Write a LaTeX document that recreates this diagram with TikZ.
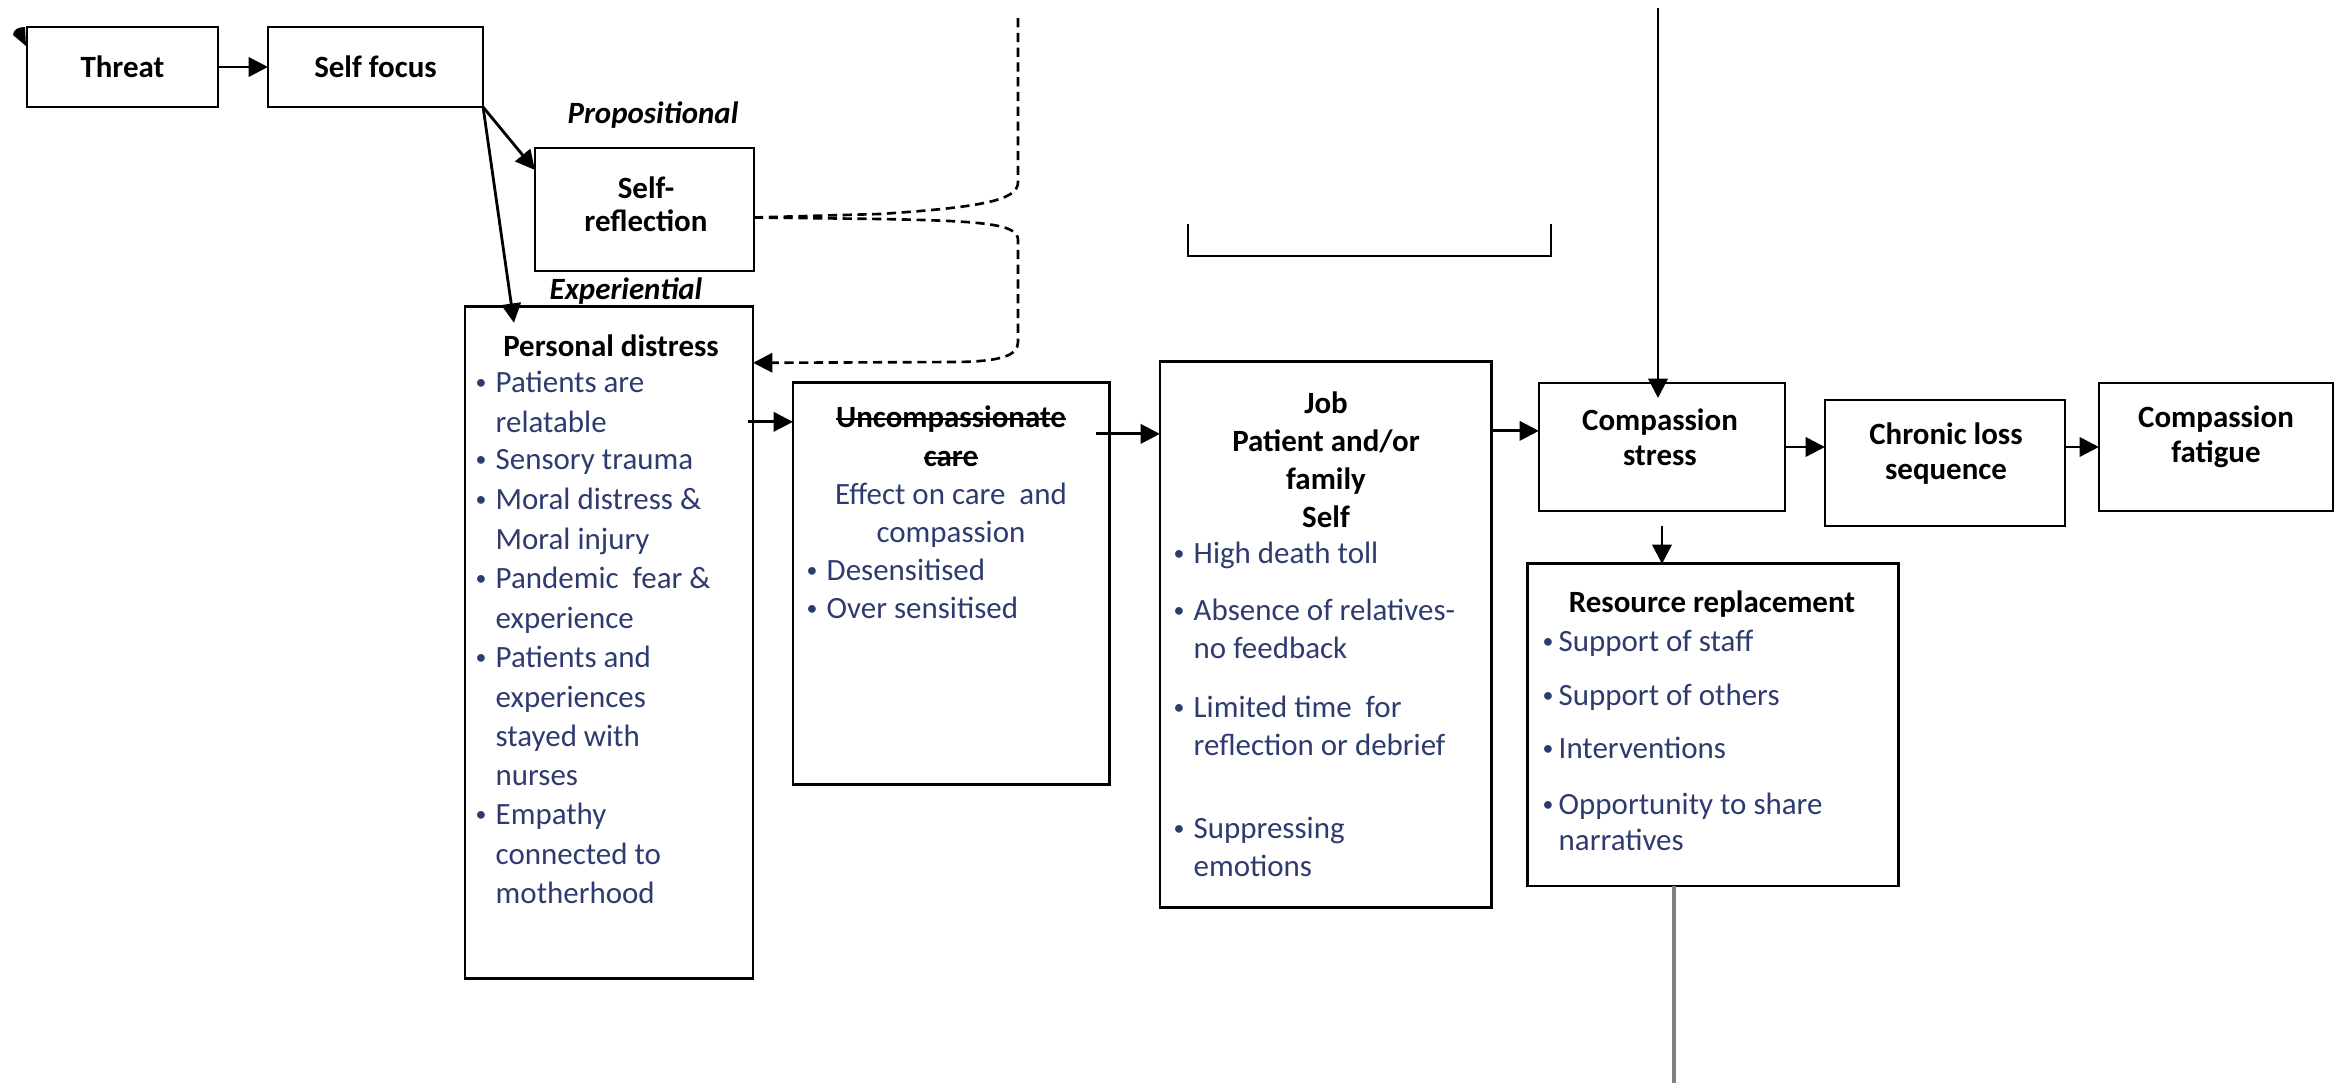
\documentclass[tikz,border=0pt]{standalone}
\usepackage{fontspec}
\setmainfont{Carlito}
\usetikzlibrary{arrows.meta}
\definecolor{navy}{HTML}{2E3B6E}
\definecolor{lgray}{RGB}{128,128,128}
\newcommand\strk[1]{\setbox0\hbox{#1}\rlap{\rule[0.24em]{\wd0}{0.55pt}}\box0}
\newcommand\smallbul{\raisebox{0.12em}{\fontsize{6.2}{6.2}\selectfont\textbullet}}
\newcommand\bitem[2][0.20cm]{\makebox[#1][l]{\smallbul}\begin{tabular}[t]{@{}l@{}}#2\end{tabular}}
\begin{document}
\begin{tikzpicture}[x=0.01cm,y=-0.01cm,
  box/.style={draw, line width=0.8pt, inner sep=0pt, outer sep=0pt},
  ttl/.style={font=\bfseries\fontsize{8.8}{10}\selectfont, align=center, inner sep=0pt},
  lbl/.style={font=\bfseries\itshape\fontsize{8.8}{10}\selectfont, inner sep=0pt},
  itm/.style={font=\fontsize{8.8}{11.15}\selectfont, text=navy, anchor=base west, inner sep=0pt},
  arr/.style={line width=0.8pt, -{Triangle[length=5.5pt,width=5.5pt]}},
  dsh/.style={line width=0.75pt, dash pattern=on 2.6pt off 1.6pt}]
\useasboundingbox (0,0) rectangle (2338,1083);

% boxes
\node[box, ttl, minimum width=1.91cm, minimum height=0.80cm] (threat) at (122.5,67) {Threat};
\node[box, ttl, minimum width=2.15cm, minimum height=0.80cm] (selffocus) at (375.5,67) {Self focus};
\node[box, minimum width=2.19cm, minimum height=1.23cm] (selfrefl) at (644.5,209.5) {};
\node[box, minimum width=2.88cm, minimum height=6.71cm] (pd) at (609,642.5) {};
\node[box, minimum width=3.16cm, minimum height=4.01cm] (unc) at (951,583.5) {};
\node[box, minimum width=3.31cm, minimum height=5.45cm] (job) at (1325.5,634.5) {};
\node[box, minimum width=2.46cm, minimum height=1.28cm] (cs) at (1662,447) {};
\node[box, minimum width=2.40cm, minimum height=1.26cm] (chronic) at (1945,463) {};
\node[box, minimum width=2.34cm, minimum height=1.28cm] (cf) at (2216,447) {};
\node[box, minimum width=3.70cm, minimum height=3.22cm] (res) at (1713,725) {};

% labels
\node[lbl] (prop) at (653,115) {Propositional};
\node[lbl] (exper) at (626,291) {Experiential};

% titles
\node[ttl, font=\bfseries\fontsize{8.8}{9.4}\selectfont] (srtext) at (646,204) {Self-\\reflection};
\node[ttl] (pdtitle) at (611,346) {Personal distress};
\node[ttl, font=\bfseries\fontsize{8.8}{10.9}\selectfont] (unctitle) at (951,477)
  {\strk{Uncompassionate}\\\strk{care}\\\textcolor{navy}{\mdseries Effect on care\ \ and}\\\textcolor{navy}{\mdseries compassion}};
\node[ttl, font=\bfseries\fontsize{8.8}{10.8}\selectfont] (jobtitle) at (1326,460) {Job\\Patient and/or\\family\\Self};
\node[ttl] (cstext) at (1660,437) {Compassion\\stress};
\node[ttl] (chrtext) at (1946,454) {Chronic loss\\sequence};
\node[ttl] (cftext) at (2216,437) {Compassion\\fatigue};
\node[ttl] (restitle) at (1712,604) {Resource replacement};

% personal distress items
\node[itm] (pd1) at (475,393) {\bitem{Patients are\\relatable}};
\node[itm] (pd2) at (475,470) {\bitem{Sensory trauma}};
\node[itm] (pd3) at (475,510) {\bitem{Moral distress \&\\Moral injury}};
\node[itm] (pd4) at (475,589) {\bitem{Pandemic\ \ fear \&\\experience}};
\node[itm] (pd5) at (475,668) {\bitem{Patients and\\experiences\\stayed with\\nurses}};
\node[itm] (pd6) at (475,825) {\bitem{Empathy\\connected to\\motherhood}};

% uncompassionate items
\node[itm] (unc1) at (806,581) {\bitem{Desensitised}};
\node[itm] (unc2) at (806,619) {\bitem{Over sensitised}};

% job items
\node[itm, font=\fontsize{8.8}{10.6}\selectfont] (job1) at (1173,564) {\bitem{High death toll}};
\node[itm, font=\fontsize{8.8}{10.6}\selectfont] (job2) at (1173,621) {\bitem{Absence of relatives-\\no feedback}};
\node[itm, font=\fontsize{8.8}{10.6}\selectfont] (job3) at (1173,718) {\bitem{Limited time\ \ for\\reflection or debrief}};
\node[itm, font=\fontsize{8.8}{10.6}\selectfont] (job4) at (1173,839) {\bitem{Suppressing\\emotions}};

% resource items
\node[itm, font=\fontsize{8.8}{10}\selectfont] (res1) at (1542,652) {\bitem[0.16cm]{Support of staff}};
\node[itm, font=\fontsize{8.8}{10}\selectfont] (res2) at (1542,706) {\bitem[0.16cm]{Support of others}};
\node[itm, font=\fontsize{8.8}{10}\selectfont] (res3) at (1542,759) {\bitem[0.16cm]{Interventions}};
\node[itm, font=\fontsize{8.8}{10}\selectfont] (res4) at (1542,815) {\bitem[0.16cm]{Opportunity to share\\narratives}};

% connectors
\draw[arr] (threat) -- (selffocus);
\draw[arr] (selffocus.south east) -- ([yshift=-0.22cm]selfrefl.north west);
\draw[arr] (selffocus.south east) -- ([xshift=0.49cm,yshift=-0.16cm]pd.north west);

\coordinate (pdout) at ([xshift=-0.05cm,yshift=-1.15cm]pd.north east);
\draw[arr] (pdout) -- (pdout -| unc.west);
\coordinate (uncout) at ([xshift=-0.13cm,yshift=-0.51cm]unc.north east);
\draw[arr] (uncout) -- (uncout -| job.west);
\coordinate (jobout) at ([yshift=-0.69cm]job.north east);
\draw[arr] (jobout) -- (jobout -| cs.west);
\draw[arr] (cs.east) -- (cs.east -| chronic.west);
\coordinate (chrout) at (cs.east -| chronic.east);
\draw[arr] (chrout) -- (chrout -| cf.west);

\coordinate (topin) at (1658,8);
\coordinate (cstop) at (topin |- cs.north);
\draw[arr] (topin) -- ([yshift=-0.15cm]cstop);
\coordinate (csbot) at ([yshift=-0.15cm]cs.south);
\draw[arr] (csbot) -- (csbot |- res.north);

\coordinate (resline) at (1674,1083);
\draw[lgray, line width=1.1pt] (resline |- res.south) -- (resline);

% bracket
\coordinate (brl) at (1188,224);
\coordinate (brr) at (1551,224);
\draw[line width=0.7pt] (brl) -- (1188,256) -- (1551,256) -- (brr);

% dashed connectors
\coordinate (dstart) at ([yshift=-0.08cm]selfrefl.east);
\coordinate (dtop) at (1018,13);
\coordinate (dend) at ([yshift=-0.56cm]pd.north east);
\draw[dsh] (dstart) -- (880,214) .. controls (985,207) and (1018,200) .. (1018,182) -- (dtop);
\draw[dsh, -{Triangle[length=5.5pt,width=5.5pt]}] (dstart) -- (880,219) .. controls (985,221) and (1018,224) .. (1018,240) -- (1018,342) .. controls (1018,356) and (1000,361) .. (960,362) -- (dend);

% clipped mark at top left
\fill (13,35) .. controls (13,30) and (18,27) .. (25,27) -- (26,46) -- cycle;
\end{tikzpicture}
\end{document}
